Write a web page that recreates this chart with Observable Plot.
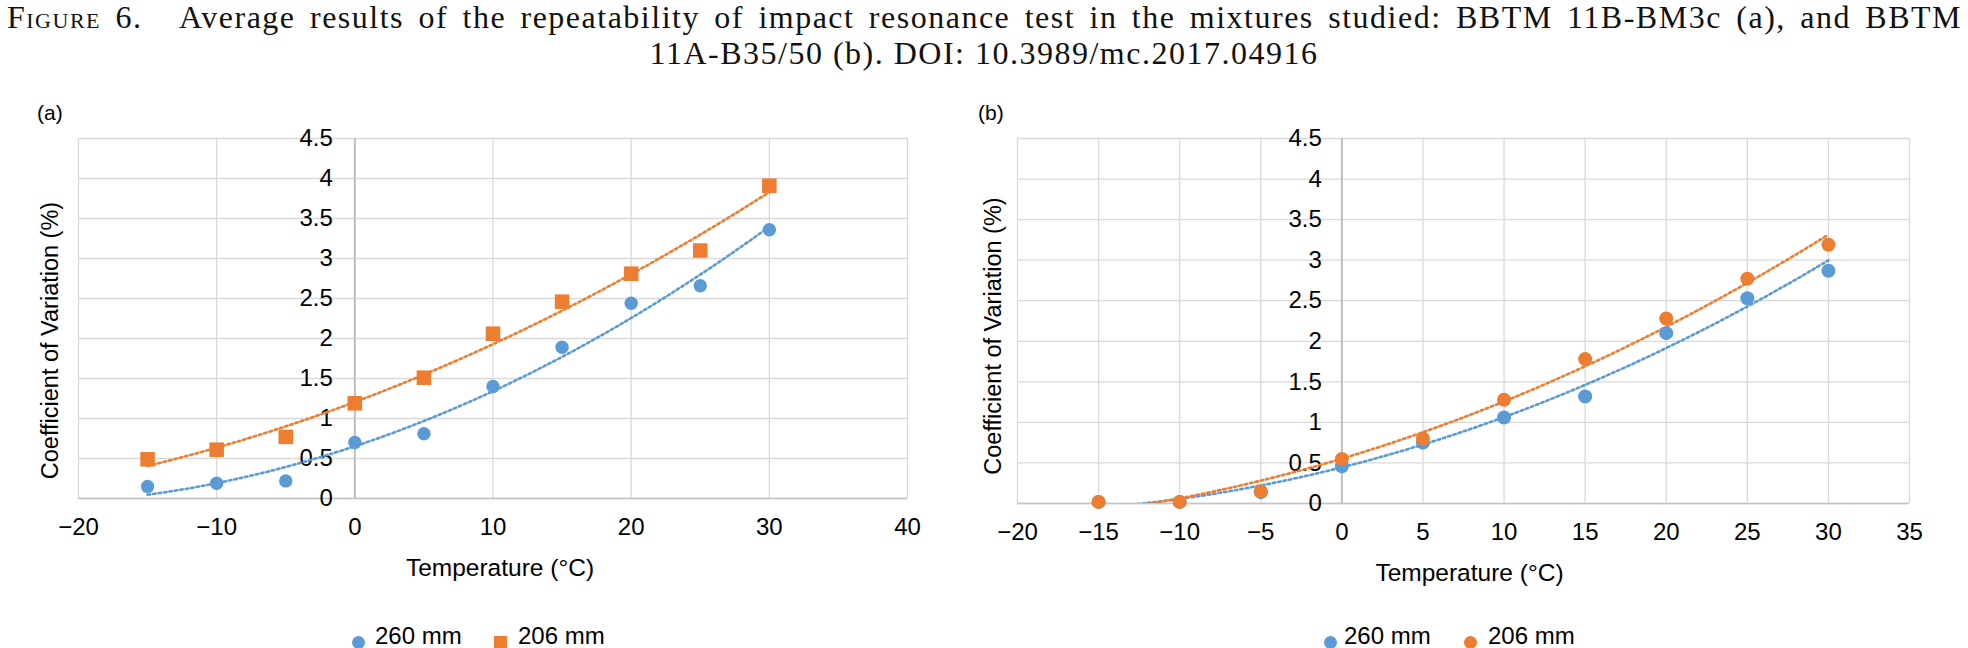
<!DOCTYPE html>
<html><head><meta charset="utf-8">
<script src="https://cdn.jsdelivr.net/npm/d3@7"></script>
<script src="https://cdn.jsdelivr.net/npm/@observablehq/plot@0.6"></script>
<style>
html,body{margin:0;padding:0;background:#fff;}
body{width:1968px;height:648px;overflow:hidden;position:relative;}
.t{position:absolute;font-family:"Liberation Serif","Times New Roman",serif;font-size:32px;line-height:35.4px;color:#111;letter-spacing:1.5px;}
.lab{position:absolute;font-family:"Liberation Sans",Arial,sans-serif;color:#000;white-space:nowrap;}
.chart{position:absolute;top:80px;}
.mk{position:absolute;}
</style></head><body>
<div class="t" style="left:7px;top:0;width:1955px;text-align:justify;text-align-last:justify;"><span style="font-variant:small-caps;margin-right:24px;">Figure 6.</span> Average results of the repeatability of impact resonance test in the mixtures studied: BBTM 11B-BM3c (a), and BBTM</div>
<div class="t" style="left:0;top:35.6px;width:1968px;text-align:center;">11A-B35/50 (b). DOI: 10.3989/mc.2017.04916</div>
<div class="lab" style="left:37px;top:102px;font-size:21px;line-height:21px;">(a)</div>
<div class="lab" style="left:978px;top:102px;font-size:21px;line-height:21px;">(b)</div>
<div id="ca" class="chart" style="left:0;"></div>
<div id="cb" class="chart" style="left:960px;"></div>
<div id="legA"></div>
<div id="legB"></div>
<script>
// ---- data ----
const seriesNames = ["260 mm", "206 mm"];
const tempA = [-15, -10, -5, 0, 5, 10, 15, 20, 25, 30];
const a260 = [0.15, 0.19, 0.22, 0.70, 0.81, 1.40, 1.89, 2.44, 2.66, 3.36];
const a206 = [0.49, 0.61, 0.77, 1.19, 1.51, 2.06, 2.46, 2.81, 3.10, 3.91];
const tempB = [-15, -10, -5, 0, 5, 10, 15, 20, 25, 30];
const b260 = [0.02, 0.02, 0.14, 0.46, 0.75, 1.06, 1.32, 2.10, 2.53, 2.87];
const b206 = [0.02, 0.02, 0.15, 0.55, 0.80, 1.28, 1.78, 2.28, 2.77, 3.19];
const xTicksA = [-20, -10, 0, 10, 20, 30, 40];
const xTicksB = [-20, -15, -10, -5, 0, 5, 10, 15, 20, 25, 30, 35];
const yTicks = [0, 0.5, 1, 1.5, 2, 2.5, 3, 3.5, 4, 4.5];
const xTitle = "Temperature (°C)";
const yTitle = "Coefficient of Variation (%)";

const BLUE = "#5B9BD5", ORANGE = "#ED7D31";

// quadratic least-squares trendline (as the spreadsheet's polynomial trendline)
function quadFit(xs, ys) {
  let S = [0,0,0,0,0], T = [0,0,0];
  xs.forEach((x, i) => {
    for (let k = 0; k < 5; k++) S[k] += Math.pow(x, k);
    for (let k = 0; k < 3; k++) T[k] += ys[i] * Math.pow(x, k);
  });
  const A = [[S[0],S[1],S[2],T[0]],[S[1],S[2],S[3],T[1]],[S[2],S[3],S[4],T[2]]];
  for (let c = 0; c < 3; c++) {
    for (let r = c + 1; r < 3; r++) {
      const f = A[r][c] / A[c][c];
      for (let k = c; k < 4; k++) A[r][k] -= f * A[c][k];
    }
  }
  const b = [0,0,0];
  for (let r = 2; r >= 0; r--) {
    let s = A[r][3];
    for (let k = r + 1; k < 3; k++) s -= A[r][k] * b[k];
    b[r] = s / A[r][r];
  }
  return x => b[0] + b[1] * x + b[2] * x * x;
}

function panel({xs, s1, s2, sym2, r1, r2, xDomain, xTicks, width, height, mL, mR, mT, mB, ytDx, yTitleDx, yTitleDy, xTitleDx}) {
  const d1 = xs.map((x, i) => ({x, y: s1[i]}));
  const d2 = xs.map((x, i) => ({x, y: s2[i]}));
  const f1 = quadFit(xs, s1), f2 = quadFit(xs, s2);
  const fine = d3.range(d3.min(xs), d3.max(xs) + 1e-9, 0.25);
  const t1 = fine.map(x => ({x, y: f1(x)}));
  const t2 = fine.map(x => ({x, y: f2(x)}));
  const dash = {strokeWidth: 2.6, strokeDasharray: "2.6,2.9", clip: true};
  return Plot.plot({
    width, height, marginLeft: mL, marginRight: mR, marginTop: mT, marginBottom: mB,
    x: {domain: xDomain, axis: null},
    y: {domain: [0, 4.5], axis: null},
    style: {fontFamily: "'Liberation Sans', Arial, sans-serif", fontSize: "24px", color: "#000", background: "transparent", overflow: "visible"},
    marks: [
      Plot.gridX(xTicks, {stroke: "#d9d9d9", strokeOpacity: 1, strokeWidth: 1.3}),
      Plot.gridY(yTicks, {stroke: "#d9d9d9", strokeOpacity: 1, strokeWidth: 1.3}),
      Plot.ruleY([0], {stroke: "#c4c4c4", strokeWidth: 1.6}),
      Plot.ruleX([0], {stroke: "#bfbfbf", strokeWidth: 2}),
      Plot.axisX(xTicks, {tickSize: 0, tickPadding: 19, fontSize: 24, label: null, fill: "#000"}),
      Plot.text(yTicks, {x: 0, y: d => d, text: d => String(d), textAnchor: "end", dx: ytDx, fontSize: 24, fill: "#000"}),
      Plot.text([xTitle], {frameAnchor: "bottom", textAnchor: "middle", lineAnchor: "top", dy: 60, dx: xTitleDx, fontSize: 24.5, fill: "#000"}),
      Plot.text([yTitle], {frameAnchor: "left", textAnchor: "middle", lineAnchor: "middle", rotate: -90, dx: yTitleDx, dy: yTitleDy, fontSize: 23.5, fill: "#000"}),
      Plot.line(t1, {x: "x", y: "y", stroke: BLUE, ...dash}),
      Plot.line(t2, {x: "x", y: "y", stroke: ORANGE, ...dash}),
      Plot.dot(d1, {x: "x", y: "y", r: r1, fill: BLUE, symbol: "circle"}),
      Plot.dot(d2, {x: "x", y: "y", r: r2, fill: ORANGE, symbol: sym2})
    ]
  });
}

document.getElementById("ca").append(panel({
  xs: tempA, s1: a260, s2: a206, sym2: "square", r1: 6.7, r2: 8.2,
  xDomain: [-20, 40], xTicks: xTicksA, width: 960, height: 530,
  mL: 78, mR: 53, mT: 58, mB: 112, ytDx: -22, yTitleDx: -28, yTitleDy: 22, xTitleDx: 7
}));
document.getElementById("cb").append(panel({
  xs: tempB, s1: b260, s2: b206, sym2: "circle", r1: 7, r2: 7,
  xDomain: [-20, 35], xTicks: xTicksB, width: 1008, height: 530,
  mL: 57, mR: 59, mT: 58, mB: 107, ytDx: -20, yTitleDx: -24, yTitleDy: 15, xTitleDx: 6
}));

// legends
function legend(id, items) {
  const el = document.getElementById(id);
  items.forEach(it => {
    const m = document.createElement("div");
    m.className = "mk";
    m.style.cssText = `left:${it.mx - it.s/2}px;top:${642 - it.s/2}px;width:${it.s}px;height:${it.s}px;background:${it.color};border-radius:${it.round ? "50%" : "0"};`;
    el.append(m);
    const t = document.createElement("div");
    t.className = "lab";
    t.style.cssText = `left:${it.tx}px;top:624px;font-size:24px;line-height:23px;`;
    t.textContent = it.name;
    el.append(t);
  });
}
legend("legA", [
  {name: seriesNames[0], color: BLUE, round: true, mx: 358, s: 13, tx: 375},
  {name: seriesNames[1], color: ORANGE, round: false, mx: 500.5, s: 13, tx: 518}
]);
legend("legB", [
  {name: seriesNames[0], color: BLUE, round: true, mx: 1330, s: 13, tx: 1344},
  {name: seriesNames[1], color: ORANGE, round: true, mx: 1470, s: 13, tx: 1488}
]);
</script>
</body></html>
